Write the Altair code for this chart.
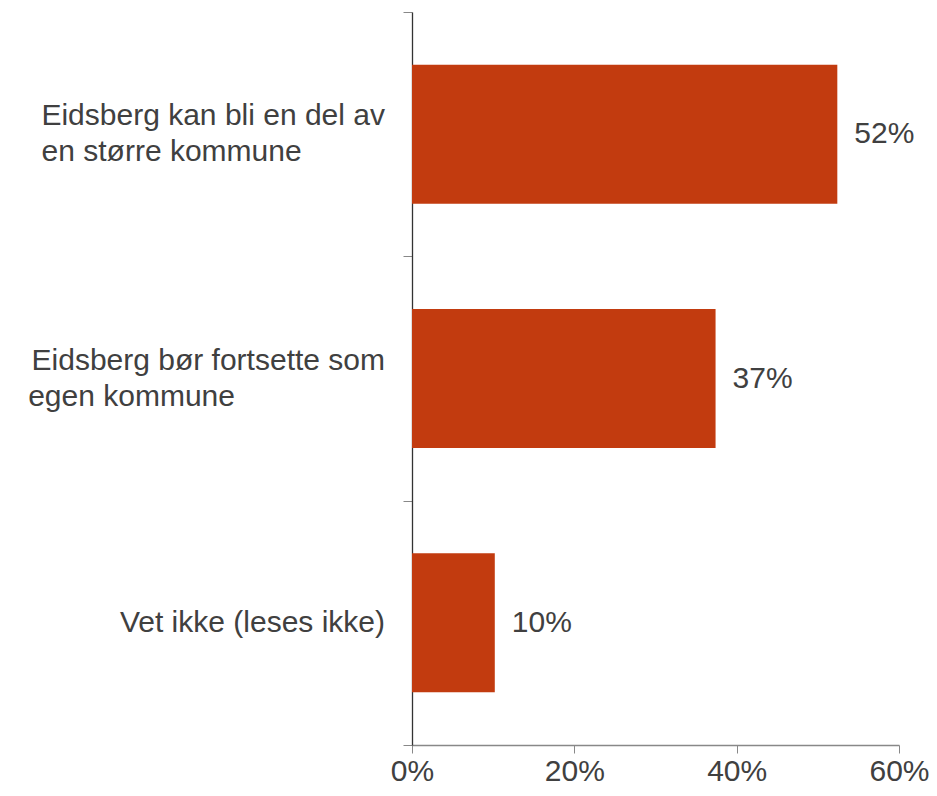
import json
import altair as alt
import pandas as pd

categories = [
    "Eidsberg kan bli en del av\nen større kommune",
    "Eidsberg bør fortsette som\negen kommune",
    "Vet ikke (leses ikke)",
]
values = [0.524, 0.374, 0.102]

df = pd.DataFrame({"kategori": categories, "andel": values})

FONT = "Liberation Sans"
FS = 30
TXT = "#404040"
BAR = "#C23B0F"
NBSP = "\u00a0"
ZWSP = "\u200b"  # keeps the padding from being trimmed
LINE_H = 36

# lines of each label are left-aligned inside a right-aligned block:
# pad the shorter second line with non-breaking spaces
line_pad = {categories[0]: 10, categories[1]: 18}
disp_expr = "datum.kategori"
for cat in reversed(categories):
    if cat in line_pad:
        first = cat.split("\n")[0]
        padded = cat + NBSP * line_pad[cat] + ZWSP
        disp_expr = (
            f"indexof(datum.kategori, {json.dumps(first, ensure_ascii=False)}) == 0"
            f" ? {json.dumps(padded, ensure_ascii=False)} : ({disp_expr})"
        )

y_enc = alt.Y(
    "kategori:N",
    sort=None,
    title=None,
    scale=alt.Scale(domain=categories, paddingInner=0, paddingOuter=0),
    axis=alt.Axis(
        labels=False,
        tickBand="extent",
        tickSize=9,
        tickColor="#888888",
        domainColor="#333333",
        domainWidth=1.3,
        grid=False,
    ),
)

x_enc = alt.X(
    "andel:Q",
    title=None,
    scale=alt.Scale(domain=[0, 0.6], nice=False),
    axis=alt.Axis(
        values=[0, 0.2, 0.4, 0.6],
        format=".0%",
        labelFont=FONT,
        labelFontSize=FS,
        labelColor=TXT,
        labelPadding=3,
        tickSize=8,
        tickColor="#888888",
        domainColor="#888888",
        domainWidth=1.3,
        grid=False,
        labelFlush=False,
    ),
)

bars = alt.Chart(df).mark_bar(color=BAR, size=139).encode(x=x_enc, y=y_enc)

values_text = alt.Chart(df).mark_text(
    align="left", baseline="middle", dx=17, font=FONT, fontSize=FS, color=TXT
).encode(
    x=alt.X("andel:Q"),
    y=alt.Y("kategori:N", sort=None),
    text=alt.Text("andel:Q", format=".0%"),
)


def cat_layer(multi):
    test = "indexof(datum.kategori, '\\n') >= 0"
    return (
        alt.Chart(df)
        .transform_filter(test if multi else f"!({test})")
        .transform_calculate(disp=disp_expr)
        .mark_text(
            align="right",
            baseline="middle",
            lineBreak="\n",
            lineHeight=LINE_H,
            dy=-LINE_H / 2 if multi else 0,
            font=FONT,
            fontSize=FS,
            color=TXT,
        )
        .encode(
            x=alt.value(-27),
            y=alt.Y("kategori:N", sort=None),
            text=alt.Text("disp:N"),
        )
    )


chart = (
    alt.layer(bars, values_text, cat_layer(True), cat_layer(False))
    .properties(
        width=487,
        height=733,
        background="white",
        autosize=alt.AutoSizeParams(type="none"),
        padding={"left": 404, "top": 4, "right": 30, "bottom": 43},
    )
    .configure_view(strokeWidth=0)
)

chart.save("out.html", embed_options={"renderer": "svg", "actions": False})
